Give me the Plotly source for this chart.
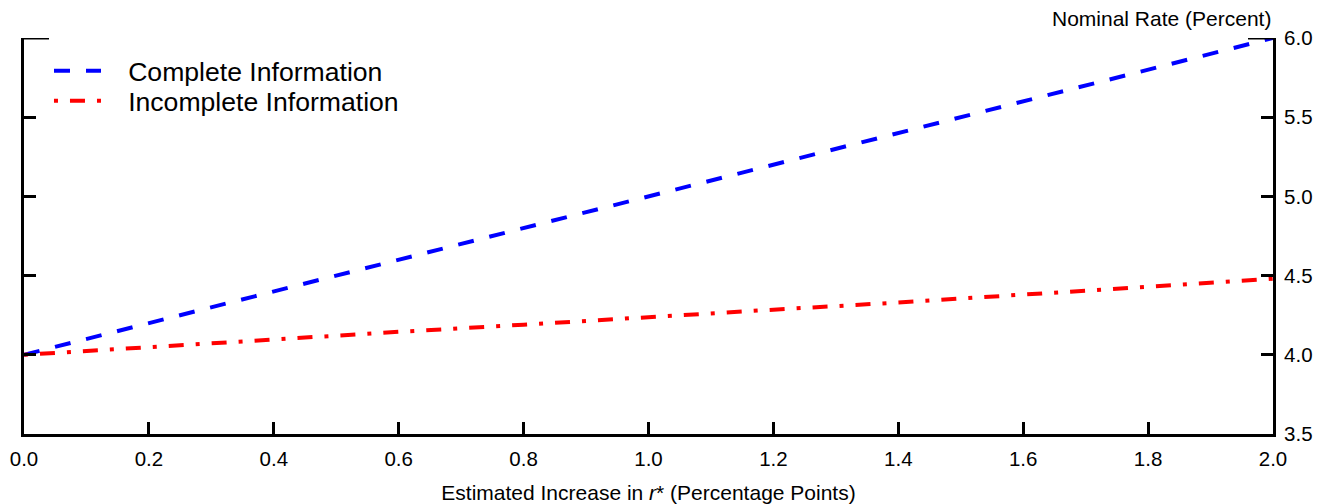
import plotly.graph_objects as go

# Data
x_vals = [0.0, 0.2, 0.4, 0.6, 0.8, 1.0, 1.2, 1.4, 1.6, 1.8, 2.0]
complete_info = [4.0, 4.2, 4.4, 4.6, 4.8, 5.0, 5.2, 5.4, 5.6, 5.8, 6.0]
incomplete_info = [4.0, 4.05, 4.1, 4.145, 4.19, 4.24, 4.285, 4.33, 4.38, 4.43, 4.48]
x_ticks = [0.0, 0.2, 0.4, 0.6, 0.8, 1.0, 1.2, 1.4, 1.6, 1.8, 2.0]
y_ticks = [3.5, 4.0, 4.5, 5.0, 5.5, 6.0]
series_names = ["Complete Information", "Incomplete Information"]

FONT = "Liberation Sans, Arial, sans-serif"
PAD = "\u00a0\u00a0\u00a0"

fig = go.Figure()
fig.add_trace(go.Scatter(
    x=x_vals, y=complete_info, mode="lines", name=PAD + series_names[0],
    line=dict(color="#0000ff", width=4, dash="16px,16px"), legend="legend",
))
fig.add_trace(go.Scatter(
    x=x_vals, y=incomplete_info, mode="lines", name=PAD + series_names[1],
    line=dict(color="#ff0000", width=4, dash="4px,12px,15px,12px"), legend="legend2",
))
# invisible trace on left axis for mirrored ticks
fig.add_trace(go.Scatter(x=[x_vals[0]], y=[complete_info[0]], yaxis="y2",
                         mode="lines", showlegend=False, hoverinfo="skip",
                         line=dict(color="rgba(0,0,0,0)")))

axis_common = dict(showline=True, linecolor="black", linewidth=3,
                   ticks="inside", ticklen=12, tickwidth=3, tickcolor="black",
                   showgrid=False, zeroline=False, automargin=False)

legend_common = dict(xanchor="left", yanchor="middle", font=dict(size=26.6),
                     bgcolor="rgba(0,0,0,0)", itemwidth=47)

fig.update_layout(
    width=1325, height=504,
    margin=dict(l=16, r=60, t=30, b=78),
    paper_bgcolor="white", plot_bgcolor="white",
    font=dict(family=FONT, color="black"),
    xaxis=dict(range=[0, 2], tickvals=x_ticks, tickformat=".1f",
               tickfont=dict(size=20.5), ticklabelstandoff=4,
               title=dict(text="Estimated Increase in <i>r</i>* (Percentage Points)",
                          font=dict(size=21), standoff=17),
               **axis_common),
    yaxis=dict(range=[3.5, 6.0], tickvals=y_ticks, tickformat=".1f",
               side="right", tickfont=dict(size=20.5), ticklabelstandoff=4, **axis_common),
    yaxis2=dict(range=[3.5, 6.0], tickvals=y_ticks, overlaying="y", side="left",
                showticklabels=False, **axis_common),
    legend=dict(x=0.02, y=0.917, **legend_common),
    legend2=dict(x=0.02, y=0.841, **legend_common),
    showlegend=True,
    annotations=[dict(text="Nominal Rate (Percent)", x=1, y=1, xref="paper", yref="paper",
                      xanchor="right", yanchor="bottom", yshift=6, showarrow=False,
                      font=dict(size=21))],
    shapes=[
        dict(type="line", xref="paper", yref="y", x0=0, x1=0.02, y0=6.0, y1=6.0,
             line=dict(color="black", width=3)),
        dict(type="line", xref="paper", yref="y", x0=0.98, x1=1, y0=6.0, y1=6.0,
             line=dict(color="black", width=3)),
    ],
)

fig.write_html("out.html")
